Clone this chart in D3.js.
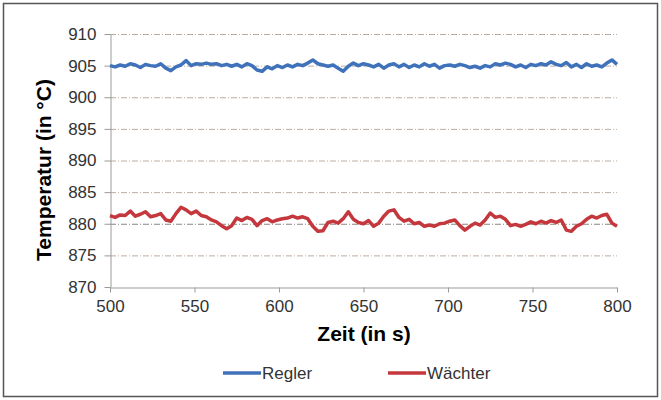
<!DOCTYPE html>
<html>
<head>
<meta charset="utf-8">
<script src="https://cdn.jsdelivr.net/npm/d3@7"></script>
<style>
  body { margin: 0; background: #fff; }
  svg { display: block; font-family: "Liberation Sans", Arial, sans-serif; }
</style>
</head>
<body>
<svg width="661" height="400"></svg>
<script>
// sampled every 3 s from 500 s to 800 s
const tStart = 500;
const tStep = 3;
const regler = [
  905.0, 904.8, 905.1, 904.9, 905.3, 905.1, 904.7, 905.2, 905.0, 904.9,
  905.3, 904.6, 904.2, 904.8, 905.1, 905.8, 905.0, 905.3, 905.2, 905.4,
  905.2, 905.3, 905.0, 905.2, 904.9, 905.2, 904.8, 905.3, 905.0, 904.3,
  904.1, 904.8, 904.5, 905.0, 904.7, 905.1, 904.8, 905.2, 905.0, 905.4,
  905.9, 905.3, 905.1, 904.9, 905.1, 904.6, 904.1, 904.9, 905.4, 905.0,
  905.3, 905.1, 904.8, 905.2, 904.6, 905.1, 905.3, 904.8, 905.2, 904.7,
  905.1, 904.8, 905.3, 904.9, 905.2, 904.6, 905.0, 905.1, 904.9, 905.2,
  905.0, 904.7, 904.9, 904.6, 905.0, 904.8, 905.3, 905.1, 905.4, 905.2,
  904.8, 905.1, 904.7, 905.2, 905.0, 905.3, 905.1, 905.6, 905.2, 905.0,
  905.5, 904.8, 905.2, 904.7, 905.3, 904.9, 905.1, 904.8, 905.4, 905.9,
  905.2
];
const waechter = [
  881.3, 881.0, 881.4, 881.3, 882.0, 881.2, 881.5, 881.9, 881.1, 881.3,
  881.6, 880.6, 880.4, 881.6, 882.6, 882.2, 881.6, 882.0, 881.3, 881.1,
  880.6, 880.3, 879.7, 879.2, 879.7, 880.9, 880.5, 881.0, 880.7, 879.7,
  880.5, 880.8, 880.3, 880.6, 880.8, 880.9, 881.2, 880.9, 881.1, 880.8,
  879.6, 878.8, 878.9, 880.2, 880.4, 880.1, 880.8, 881.9, 880.7, 880.2,
  880.0, 880.5, 879.6, 880.1, 881.2, 882.0, 882.2, 881.0, 880.4, 880.7,
  880.0, 880.2, 879.6, 879.8, 879.6, 880.0, 880.1, 880.4, 880.6, 879.7,
  879.0, 879.6, 880.1, 879.8, 880.6, 881.7, 881.0, 881.2, 880.7, 879.7,
  879.9, 879.6, 879.9, 880.3, 880.0, 880.4, 880.1, 880.5, 880.2, 880.6,
  879.0, 878.8, 879.6, 880.0, 880.7, 881.2, 880.9, 881.3, 881.5, 880.1,
  879.6
];
const xTicks = [500, 550, 600, 650, 700, 750, 800];
const yTicks = [870, 875, 880, 885, 890, 895, 900, 905, 910];
const seriesNames = ["Regler", "Wächter"];
const seriesColors = ["#3f72ba", "#c4373d"];

let margin = ({top: 34, right: 44, bottom: 113, left: 110});
let width = 661, height = 400;

let svg = d3.select("svg");

// outer frame
svg.append("rect")
    .attr("x", 3.5).attr("y", 3.5)
    .attr("width", 654).attr("height", 393)
    .attr("fill", "none")
    .attr("stroke", "#555")
    .attr("stroke-width", 1.5);

let x = d3.scaleLinear([500, 800], [margin.left, width - margin.right]);
let y = d3.scaleLinear([870, 910], [height - margin.bottom, margin.top]);

// gridlines
svg.append("g")
    .selectAll("line")
    .data(yTicks.slice(1))
    .join("line")
    .attr("x1", x(500)).attr("x2", x(800))
    .attr("y1", d => y(d) + 0.5).attr("y2", d => y(d) + 0.5)
    .attr("stroke", d => d === 880 ? "#8a8580" : "#bcaca0")
    .attr("stroke-width", 1)
    .attr("stroke-dasharray", "6,2,1,2");

let styleAxis = g => {
    g.select(".domain").attr("stroke", "#9a9a9a");
    g.selectAll(".tick line").attr("stroke", "#9a9a9a");
    g.selectAll(".tick text")
        .attr("fill", "#333")
        .attr("font-size", 17)
        .attr("font-family", "Liberation Sans, Arial, sans-serif");
};

svg.append("g")
    .attr("transform", `translate(0,${y(870) + 0.5})`)
    .call(d3.axisBottom(x).tickValues(xTicks).tickSize(5).tickSizeOuter(0).tickPadding(7))
    .call(styleAxis);

svg.append("g")
    .attr("transform", `translate(${x(500) + 0.5},0)`)
    .call(d3.axisLeft(y).tickValues(yTicks).tickSize(6).tickSizeOuter(0).tickPadding(8))
    .call(styleAxis);

// lines
let line = d3.line()
    .x((d, i) => x(tStart + i * tStep))
    .y(d => y(d));

[regler, waechter].forEach((values, k) => {
    svg.append("path")
        .datum(values)
        .attr("fill", "none")
        .attr("stroke", seriesColors[k])
        .attr("stroke-width", 3.5)
        .attr("stroke-linejoin", "round")
        .attr("d", line);
});

// axis titles
svg.append("text")
    .attr("x", 364).attr("y", 341)
    .attr("text-anchor", "middle")
    .attr("font-size", 21)
    .attr("font-weight", "bold")
    .text("Zeit (in s)");

svg.append("text")
    .attr("transform", "translate(51,170) rotate(-90)")
    .attr("text-anchor", "middle")
    .attr("font-size", 21)
    .attr("font-weight", "bold")
    .text("Temperatur (in °C)");

// legend
let legendX = [223, 388];
let legend = svg.append("g")
    .selectAll("g")
    .data(seriesNames)
    .join("g")
    .attr("transform", (d, i) => `translate(${legendX[i]},373)`);

legend.append("line")
    .attr("x1", 0).attr("x2", 38)
    .attr("stroke", (d, i) => seriesColors[i])
    .attr("stroke-width", 3.5);

legend.append("text")
    .attr("x", 39)
    .attr("dy", "0.35em")
    .attr("font-size", 17)
    .attr("fill", "#333")
    .text(d => d);
</script>
</body>
</html>
